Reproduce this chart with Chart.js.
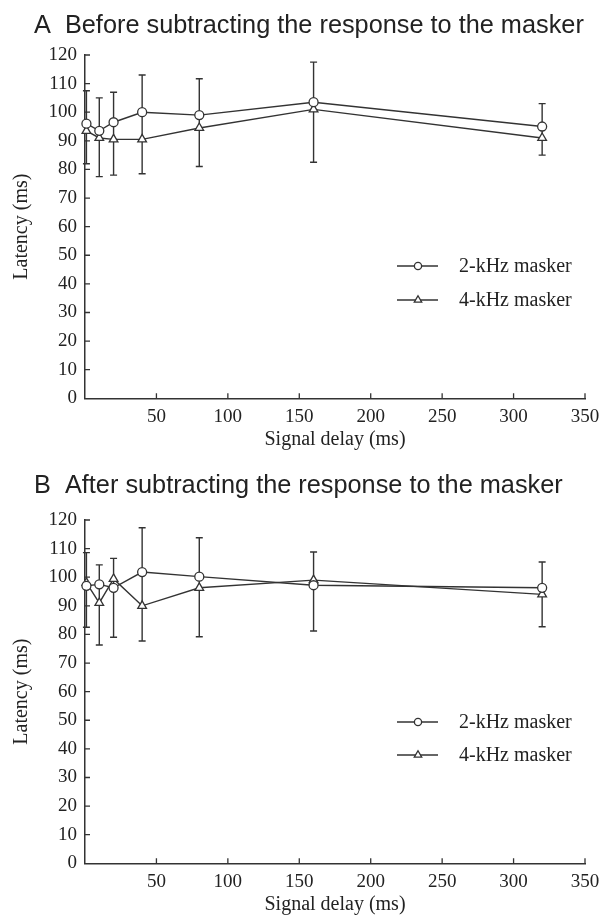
<!DOCTYPE html>
<html><head><meta charset="utf-8">
<script src="https://cdn.jsdelivr.net/npm/chart.js@4"></script>
<style>
html,body{margin:0;padding:0;background:#fff;}
#wrap{position:relative;width:616px;height:917px;overflow:hidden;}
.ttl{position:absolute;left:34px;font-family:"Liberation Sans",Arial,sans-serif;font-size:25.3px;color:#222;line-height:1;white-space:nowrap;}
.box{position:absolute;left:0;width:616px;height:452px;}
</style></head><body>
<div id="wrap">
<div class="box" style="top:0"><canvas id="cA" width="616" height="452"></canvas></div>
<div class="box" style="top:465px"><canvas id="cB" width="616" height="452"></canvas></div>
<div class="ttl" style="top:12px">A&nbsp;&nbsp;Before subtracting the response to the masker</div>
<div class="ttl" style="top:472px">B&nbsp;&nbsp;After subtracting the response to the masker</div>
</div>
<script>
// ---- data ----
const delays = [1, 10, 20, 40, 80, 160, 320];
const seriesNames = ['2-kHz masker', '4-kHz masker'];
const xTicks = [50, 100, 150, 200, 250, 300, 350];
const yTicks = [0, 10, 20, 30, 40, 50, 60, 70, 80, 90, 100, 110, 120];

// Panel A: before subtracting
const a2k = [96, 93.5, 96.5, 100, 99, 103.5, 95];
const a4k = [93.5, 91, 90.5, 90.5, 94.5, 101, 91];
const aErrTop = [107.5, 105, 107, 113, 111.7, 117.5, 103];
const aErrBottom = [82, 77.5, 78, 78.5, 81, 82.5, 85];

// Panel B: after subtracting
const b2k = [97, 97.5, 96.3, 101.8, 100.2, 97.2, 96.3];
const b4k = [98, 91, 99.4, 90, 96.3, 99, 94];
const bErrTop = [108.6, 104.3, 106.6, 117.3, 113.8, 108.8, 105.3];
const bErrBottom = [82.5, 76.3, 79, 77.7, 79.2, 81.2, 82.7];

// ---- style ----
const INK = '#333';
const TXT = '#222';
const SERIF = '"Liberation Serif","Times New Roman",serif';

function drawMarker(ctx, style, x, y, r) {
  ctx.beginPath();
  if (style === 'circle') {
    ctx.arc(x, y, r, 0, Math.PI * 2);
  } else {
    const a = -Math.PI / 2;
    for (let k = 0; k < 3; k++) {
      const ang = a + k * 2 * Math.PI / 3;
      const px = x + r * Math.cos(ang), py = y + r * Math.sin(ang);
      if (k === 0) ctx.moveTo(px, py); else ctx.lineTo(px, py);
    }
    ctx.closePath();
  }
  ctx.fillStyle = '#fff';
  ctx.fill();
  ctx.lineWidth = 1.3;
  ctx.strokeStyle = INK;
  ctx.stroke();
}

const errorBarPlugin = {
  id: 'errbars',
  beforeDatasetsDraw(chart, args, opts) {
    const ctx = chart.ctx, xs = chart.scales.x, ys = chart.scales.y;
    ctx.save();
    ctx.strokeStyle = INK;
    ctx.lineWidth = 1.4;
    opts.top.forEach((t, i) => {
      const px = xs.getPixelForValue(delays[i]);
      const pt = ys.getPixelForValue(t);
      const pb = ys.getPixelForValue(opts.bottom[i]);
      ctx.beginPath();
      ctx.moveTo(px, pt); ctx.lineTo(px, pb);
      ctx.moveTo(px - 3.5, pt); ctx.lineTo(px + 3.5, pt);
      ctx.moveTo(px - 3.5, pb); ctx.lineTo(px + 3.5, pb);
      ctx.stroke();
    });
    ctx.restore();
  }
};

const inwardTicksPlugin = {
  id: 'inticks',
  afterDraw(chart) {
    const ctx = chart.ctx, xs = chart.scales.x, ys = chart.scales.y;
    const a = chart.chartArea;
    ctx.save();
    ctx.strokeStyle = INK;
    ctx.lineWidth = 1.3;
    ctx.beginPath();
    xTicks.forEach(v => {
      const px = xs.getPixelForValue(v);
      ctx.moveTo(px, a.bottom); ctx.lineTo(px, a.bottom - 5);
    });
    yTicks.forEach(v => {
      if (v === 0) return;
      const py = ys.getPixelForValue(v);
      ctx.moveTo(a.left, py); ctx.lineTo(a.left + 5, py);
    });
    ctx.stroke();
    ctx.restore();
  }
};

const legendPlugin = {
  id: 'inlegend',
  afterDraw(chart, args, opts) {
    const ctx = chart.ctx;
    ctx.save();
    chart.data.datasets.forEach((ds, i) => {
      const y = opts.rows[i];
      ctx.strokeStyle = INK;
      ctx.lineWidth = 1.4;
      ctx.beginPath();
      ctx.moveTo(397, y); ctx.lineTo(438, y);
      ctx.stroke();
      drawMarker(ctx, ds.pointStyle, 418, y, ds.pointStyle === 'circle' ? 3.6 : 4.3);
      ctx.fillStyle = TXT;
      ctx.font = '20px ' + SERIF;
      ctx.textBaseline = 'middle';
      ctx.textAlign = 'left';
      ctx.fillText(ds.label, 459, y + 1);
    });
    ctx.restore();
  }
};

function makeChart(id, s2k, s4k, errTop, errBottom, legendRows) {
  const mk = (arr) => delays.map((x, i) => ({ x: x, y: arr[i] }));
  return new Chart(document.getElementById(id), {
    type: 'line',
    data: {
      datasets: [
        { label: seriesNames[0], data: mk(s2k), pointStyle: 'circle', pointRadius: 4.5 },
        { label: seriesNames[1], data: mk(s4k), pointStyle: 'triangle', pointRadius: 5 }
      ].map(d => Object.assign(d, {
        borderColor: INK, borderWidth: 1.4, backgroundColor: '#fff',
        pointBackgroundColor: '#fff', pointBorderColor: INK, pointBorderWidth: 1.3,
        tension: 0, clip: false, fill: false
      }))
    },
    options: {
      responsive: false,
      animation: false,
      devicePixelRatio: 1,
      events: [],
      layout: { padding: { top: 55, right: 31, left: 0, bottom: 0 } },
      plugins: {
        legend: { display: false },
        tooltip: { enabled: false },
        errbars: { top: errTop, bottom: errBottom },
        inlegend: { rows: legendRows }
      },
      scales: {
        x: {
          type: 'linear', min: 0, max: 350,
          afterBuildTicks: s => { s.ticks = xTicks.map(v => ({ value: v })); },
          afterFit: s => { s.height = 53.7; },
          grid: { display: false, drawTicks: false },
          border: { display: true, color: INK, width: 1.5 },
          ticks: { padding: 7, color: TXT, font: { family: SERIF, size: 19 }, maxRotation: 0, autoSkip: false },
          title: { display: true, text: 'Signal delay (ms)', color: TXT, font: { family: SERIF, size: 20 }, padding: { top: 0, bottom: 0 } }
        },
        y: {
          type: 'linear', min: 0, max: 120,
          afterBuildTicks: s => { s.ticks = yTicks.map(v => ({ value: v })); },
          afterFit: s => { s.width = 85; },
          grid: { display: false, drawTicks: false },
          border: { display: true, color: INK, width: 1.5 },
          ticks: { padding: 8, color: TXT, font: { family: SERIF, size: 19 }, autoSkip: false },
          title: { display: true, text: 'Latency (ms)', color: TXT, font: { family: SERIF, size: 20 }, padding: { top: 10, bottom: 0 } }
        }
      }
    },
    plugins: [errorBarPlugin, inwardTicksPlugin, legendPlugin]
  });
}

makeChart('cA', a2k, a4k, aErrTop, aErrBottom, [266, 300]);
makeChart('cB', b2k, b4k, bErrTop, bErrBottom, [257, 290]);
</script>
</body></html>
